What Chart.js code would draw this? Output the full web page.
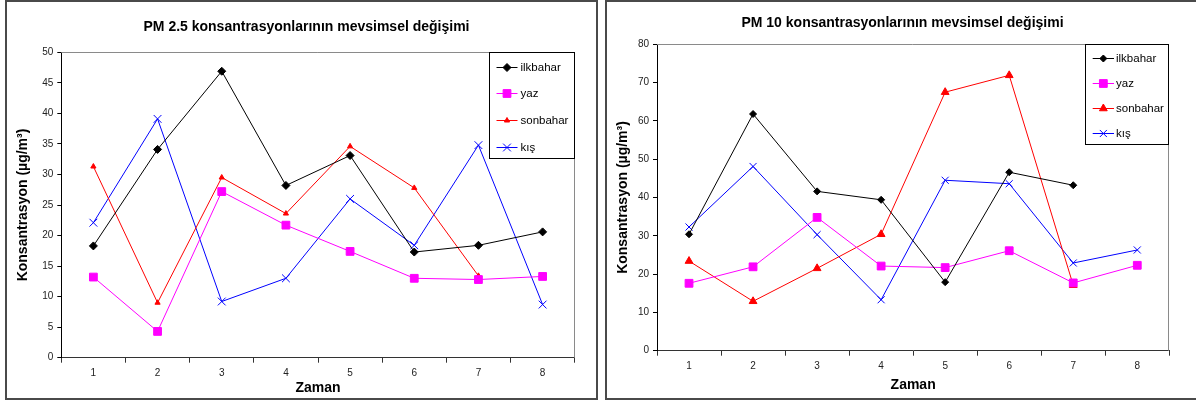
<!DOCTYPE html>
<html><head><meta charset="utf-8">
<script src="https://cdn.jsdelivr.net/npm/chart.js@4.4.1/dist/chart.umd.min.js"></script>
<style>
html,body{margin:0;padding:0;background:#fff;width:1196px;height:400px;overflow:hidden;position:relative;}
.box{position:absolute;top:0;width:593px;height:400px;box-sizing:border-box;border:2px solid #4a4a4a;background:#fff;}
.box canvas{position:absolute;left:0;top:0;}
.ttl{position:absolute;font:bold 14px "Liberation Sans",Arial,sans-serif;line-height:16px;white-space:nowrap;transform:translateX(-50%);color:#000;}
</style></head><body>
<div class="box" style="left:5px"><canvas id="c1" width="589" height="396"></canvas></div>
<div class="box" style="left:605px"><canvas id="c2" width="589" height="396"></canvas></div>
<div class="ttl" style="left:306.5px;top:18px">PM 2.5 konsantrasyonlarının mevsimsel değişimi</div>
<div class="ttl" style="left:902.5px;top:13.7px">PM 10 konsantrasyonlarının mevsimsel değişimi</div>
<script>
// ---- data ----
const categories = ['1','2','3','4','5','6','7','8'];
const seriesNames = ['ilkbahar','yaz','sonbahar','kış'];
const pm25_ilkbahar = [18.3, 34.1, 46.9, 28.2, 33.1, 17.3, 18.4, 20.6];
const pm25_yaz      = [13.2, 4.3, 27.2, 21.7, 17.4, 13.0, 12.8, 13.3];
const pm25_sonbahar = [31.3, 9.0, 29.5, 23.6, 34.6, 27.8, 13.4, null];
const pm25_kis      = [22.1, 39.1, 9.2, 13.0, 26.0, 18.4, 34.8, 8.7];
const pm10_ilkbahar = [30.4, 61.8, 41.6, 39.4, 17.9, 46.6, 43.2, null];
const pm10_yaz      = [17.6, 21.9, 34.8, 22.1, 21.7, 26.1, 17.7, 22.3];
const pm10_sonbahar = [23.4, 12.9, 21.5, 30.4, 67.5, 71.9, 17.1, null];
const pm10_kis      = [32.3, 48.1, 30.3, 13.3, 44.5, 43.6, 22.9, 26.3];
const pm25YRange = [0, 50, 5];   // min, max, step
const pm10YRange = [0, 80, 10];
const xTitle = 'Zaman';
const yTitle = 'Konsantrasyon (µg/m³)';

// ---- styles ----
const FAM = '"Liberation Sans", Arial, Helvetica, sans-serif';
Chart.defaults.font.family = FAM;
const colors = ['#000000', '#FF00FF', '#FF0000', '#0000FF'];
const styles = ['rectRot', 'rect', 'triangle', 'crossRot'];

function drawMarker(ctx, style, r, x, y) {
  if (Chart.helpers && Chart.helpers.drawPoint) {
    Chart.helpers.drawPoint(ctx, {pointStyle: style, radius: r, rotation: 0, borderWidth: 1}, x, y);
    return;
  }
  ctx.beginPath();
  if (style === 'rect') { const s = r * Math.SQRT1_2; ctx.rect(x - s, y - s, 2 * s, 2 * s); ctx.fill(); }
  else if (style === 'rectRot') { ctx.moveTo(x - r, y); ctx.lineTo(x, y - r); ctx.lineTo(x + r, y); ctx.lineTo(x, y + r); ctx.closePath(); ctx.fill(); }
  else if (style === 'triangle') { ctx.moveTo(x, y - r); ctx.lineTo(x + r * 0.866, y + r / 2); ctx.lineTo(x - r * 0.866, y + r / 2); ctx.closePath(); ctx.fill(); }
  else { const s = r * Math.SQRT1_2; ctx.moveTo(x - s, y - s); ctx.lineTo(x + s, y + s); ctx.moveTo(x - s, y + s); ctx.lineTo(x + s, y - s); }
  ctx.stroke();
}

const frameAndLegend = {
  id: 'frameAndLegend',
  beforeDatasetsDraw(chart) {
    const ctx = chart.ctx, ca = chart.chartArea;
    ctx.save();
    ctx.strokeStyle = '#8a8a8a'; ctx.lineWidth = 1;
    ctx.beginPath();
    ctx.moveTo(ca.left, Math.round(ca.top) + 0.5);
    ctx.lineTo(Math.round(ca.right) - 0.5, Math.round(ca.top) + 0.5);
    ctx.lineTo(Math.round(ca.right) - 0.5, ca.bottom);
    ctx.stroke();
    ctx.restore();
  },
  afterDraw(chart, args, o) {
    const ctx = chart.ctx, ca = chart.chartArea;
    const x1 = Math.round(ca.right - o.w), y1 = Math.round(ca.top);
    const w = Math.round(ca.right) - x1, h = Math.round(o.h);
    ctx.save();
    ctx.fillStyle = '#fff'; ctx.fillRect(x1, y1, w, h);
    ctx.strokeStyle = '#000'; ctx.lineWidth = 1;
    ctx.strokeRect(x1 + 0.5, y1 + 0.5, w - 1, h - 1);
    chart.data.datasets.forEach((ds, i) => {
      const y = Math.round(ca.top + o.rows[i]) + 0.5;
      const lx0 = x1 + o.line[0], lx1 = x1 + o.line[1];
      ctx.strokeStyle = ds.borderColor; ctx.lineWidth = 1;
      ctx.beginPath(); ctx.moveTo(lx0, y); ctx.lineTo(lx1, y); ctx.stroke();
      ctx.fillStyle = ds.pointBackgroundColor; ctx.strokeStyle = ds.pointBorderColor; ctx.lineWidth = 1;
      drawMarker(ctx, ds.pointStyle, ds.pointRadius, (lx0 + lx1) / 2, y);
      ctx.fillStyle = '#000'; ctx.font = '11.5px ' + FAM;
      ctx.textBaseline = 'middle'; ctx.textAlign = 'left';
      ctx.fillText(ds.label, x1 + o.text, y);
    });
    ctx.restore();
  }
};

function makeChart(id, seriesData, yRange, radii, g) {
  const datasets = seriesData.map((d, i) => ({
    label: seriesNames[i], data: d,
    borderColor: colors[i], backgroundColor: colors[i],
    pointBackgroundColor: colors[i], pointBorderColor: colors[i],
    borderWidth: 1, pointStyle: styles[i], pointRadius: radii[i], pointHoverRadius: radii[i],
    pointBorderWidth: 1, fill: false, tension: 0, spanGaps: false
  }));
  return new Chart(document.getElementById(id), {
    type: 'line',
    data: {labels: categories, datasets},
    plugins: [frameAndLegend],
    options: {
      responsive: false, animation: false, devicePixelRatio: 1,
      layout: {padding: {left: 0, top: g.top, right: g.right, bottom: 0}},
      plugins: {legend: {display: false}, title: {display: false}, tooltip: {enabled: false}, frameAndLegend: g.legend},
      scales: {
        x: {
          type: 'category', offset: true,
          grid: {offset: true, drawOnChartArea: false, drawTicks: true, tickLength: 5, color: '#333'},
          border: {color: '#333', width: 1},
          ticks: {padding: 5, color: '#222', font: {size: 10}, maxRotation: 0, autoSkip: false},
          title: {display: true, text: xTitle, color: '#000', font: {size: 14, weight: 'bold'}, padding: {top: 0, bottom: g.xtb}},
          afterFit(s) { s.height = g.xh; }
        },
        y: {
          min: yRange[0], max: yRange[1],
          ticks: {stepSize: yRange[2], padding: 4, color: '#222', font: {size: 10}},
          grid: {drawOnChartArea: false, drawTicks: true, tickLength: 4, color: '#000'},
          border: {color: '#000', width: 1},
          title: {display: true, text: yTitle, color: '#000', font: {size: 14, weight: 'bold'}, padding: {top: g.ytp, bottom: 0}},
          afterFit(s) { s.width = g.yw; }
        }
      }
    }
  });
}

makeChart('c1', [pm25_ilkbahar, pm25_yaz, pm25_sonbahar, pm25_kis], pm25YRange, [4, 5.5, 3, 5.5],
  {top: 50.3, right: 21.3, xh: 40.3, yw: 54.3, xtb: 1.9, ytp: 7.9,
   legend: {w: 85.2, h: 107.2, rows: [14.4, 41, 67.7, 94.4], line: [7.5, 28.5], text: 31.5}});
makeChart('c2', [pm10_ilkbahar, pm10_yaz, pm10_sonbahar, pm10_kis], pm10YRange, [3.5, 5.5, 4.5, 5],
  {top: 42.3, right: 26.7, xh: 47.3, yw: 50, xtb: 4.6, ytp: 7.9,
   legend: {w: 84.3, h: 101, rows: [13.4, 39, 64, 89], line: [7.7, 29], text: 31}});
</script>
</body></html>
